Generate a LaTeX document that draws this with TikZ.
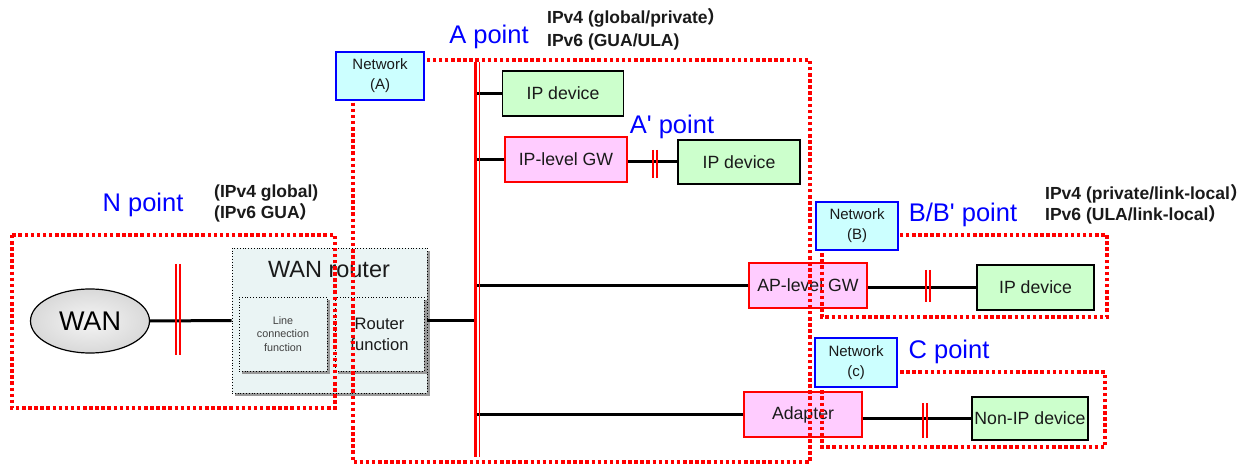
\documentclass[tikz,border=0pt]{standalone}
\usepackage{fontspec}
\setmainfont{Liberation Sans}
\newfontfamily\cjk{Noto Sans CJK JP}
\usetikzlibrary{shapes.geometric,shadows}

\definecolor{devgreen}{HTML}{CCFFCC}
\definecolor{gwpink}{HTML}{FFCCFF}
\definecolor{netcyan}{HTML}{CCFFFF}
\definecolor{rtrfill}{HTML}{EAF4F4}
\definecolor{ink}{HTML}{1A1A1A}

\tikzset{
  box/.style={rectangle, inner sep=0pt, line width=1.5pt, text=ink, font=\fontsize{17.7}{20}\selectfont},
  devbox/.style={box, draw=black, fill=devgreen},
  gwbox/.style={box, draw=red, fill=gwpink},
  netbox/.style={box, draw=blue, fill=netcyan, align=center, font=\fontsize{15}{20}\selectfont},
  rtrbox/.style={rectangle, inner sep=0pt, draw=black, line width=0.8pt, dotted, fill=rtrfill,
    drop shadow={shadow xshift=3pt, shadow yshift=-3pt, fill=gray!80, opacity=1}},
  ptlabel/.style={text=blue, font=\fontsize{25.5}{30}\selectfont},
  iplabel/.style={anchor=west, align=left, inner sep=0pt, text=ink, font=\bfseries\fontsize{17.5}{22}\selectfont},
  zone/.style={draw=red, line width=3.5pt, dash pattern=on 3.5pt off 2.6pt},
  link/.style={line width=3pt},
  cutmark/.style={draw=red, line width=2.4pt},
}

\begin{document}
\begin{tikzpicture}[x=1pt,y=-1pt]
\useasboundingbox[fill=white] (0,0) rectangle (1259,465);

% WAN side
\node[ellipse, draw=black, line width=1.2pt, inner color=gray!8, outer color=gray!30,
  minimum width=119pt, minimum height=64pt, font=\fontsize{27}{30}\selectfont] (wan) at (90,321) {WAN};
\node[rtrbox, minimum width=195pt, minimum height=145pt] (router) at (329.5,320.5) {};
\node[font=\fontsize{23.5}{26}\selectfont, text=ink] (rtrlbl) at (329,270) {WAN router};
\node[rtrbox, minimum width=88pt, minimum height=74pt, align=center, text=black!75,
  font=\fontsize{10.8}{13.5}\selectfont] (linefn) at (283,334) {Line\\connection\\function};
\node[rtrbox, minimum width=89pt, minimum height=74pt, align=center, text=ink,
  font=\fontsize{16.6}{21}\selectfont] (rtrfn) at (379.5,334) {Router\\function};

% bus
\coordinate (busT) at (475.5,62);
\coordinate (busB) at (475.5,457);

% devices and gateways
\node[devbox, minimum width=121pt, minimum height=45pt] (dev1) at (563,93.5) {IP device};
\node[gwbox, minimum width=122pt, minimum height=45pt] (ipgw) at (566,159.5) {IP-level GW};
\node[devbox, minimum width=122pt, minimum height=44pt] (dev2) at (739,162) {IP device};
\node[gwbox, minimum width=118pt, minimum height=45pt] (apgw) at (808,285.5) {AP-level GW};
\node[devbox, minimum width=117pt, minimum height=45pt] (dev3) at (1035.5,287.5) {IP device};
\node[gwbox, minimum width=118pt, minimum height=45pt] (adapter) at (803,414.5) {Adapter};
\node[devbox, minimum width=116pt, minimum height=43pt] (nonip) at (1030,418.5) {Non-IP device};

% connectors
\draw[link] (wan.east) -- (router.west);
\draw[link] (router.east) -- (busT |- router.east);
\draw[link] (busT |- dev1.west) -- (dev1.west);
\draw[link] (busT |- ipgw.west) -- (ipgw.west);
\draw[link] (ipgw.east |- dev2) -- (dev2.west);
\draw[link] (busT |- apgw.west) -- (apgw.west);
\draw[link] (apgw.east |- dev3) -- (dev3.west);
\draw[link] (busT |- adapter.west) -- (adapter.west);
\draw[link] (adapter.east |- nonip) -- (nonip.west);
\draw[red, line width=3.5pt] (busT) -- (busB);
\draw[red, line width=1pt] ([xshift=3.8pt]busT) -- ([xshift=3.8pt]busB);

% cut marks (two bars each)
\foreach \x/\ya/\yb in {178/264/355, 655/150/178, 928/270/302, 925/403/438}
  \foreach \s in {-1.9,1.9}
    \draw[cutmark] (\x+\s,\ya) -- (\x+\s,\yb);

% reference point areas
\draw[zone] (12,235) rectangle (335,408); % N
\draw[zone] (353,60) rectangle (810,462); % A
\draw[zone] (822,235) rectangle (1107,317); % B
\draw[zone] (822,372) rectangle (1105,447); % C

% network boxes
\node[netbox, minimum width=88pt, minimum height=48pt] (netA) at (380,76) {Network\\(A)};
\node[netbox, minimum width=82pt, minimum height=48pt] (netB) at (857,226) {Network\\(B)};
\node[netbox, minimum width=82pt, minimum height=49pt] (netC) at (856,362.5) {Network\\(c)};

% labels
\node[ptlabel] (npt) at (143,205) {N point};
\node[ptlabel] (apt) at (489,37) {A point};
\node[ptlabel] (a2pt) at (672,127) {A\textquotesingle{} point};
\node[ptlabel] (bpt) at (963,215) {B/B\textquotesingle{} point};
\node[ptlabel] (cpt) at (949,352) {C point};
\node[iplabel, font=\bfseries\fontsize{17.5}{21}\selectfont] (nip) at (214,203) {(IPv4 global)\\(IPv6 GUA{\cjk ）}};
\node[iplabel, font=\bfseries\fontsize{17.5}{23}\selectfont] (aip) at (547,29) {IPv4 (global/private{\cjk ）}\\IPv6 (GUA/ULA)};
\node[iplabel, font=\bfseries\fontsize{17.5}{21}\selectfont] (bip) at (1045,204) {IPv4 (private/link-local{\cjk ）}\\IPv6 (ULA/link-local{\cjk ）}};

\end{tikzpicture}
\end{document}
